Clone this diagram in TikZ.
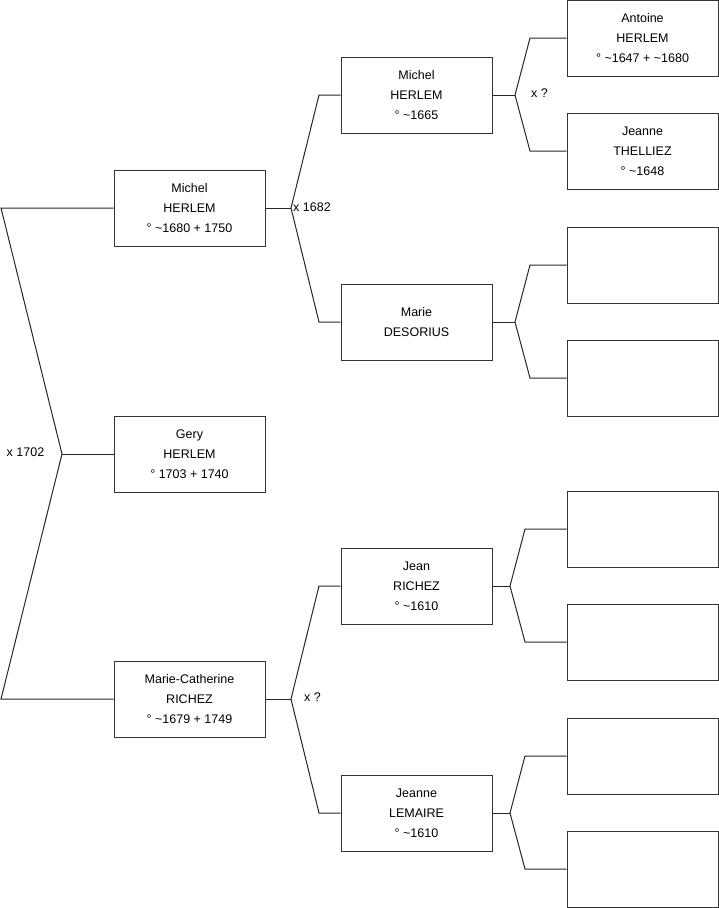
\documentclass[tikz,border=0pt]{standalone}
\usepackage{fontspec}
\setmainfont{Liberation Sans}
\begin{document}
\begin{tikzpicture}[x=1pt, y=-1pt]

    \tikzset{
        person/.style={
            draw=black!80,
            rectangle,
            line width=1pt,
            minimum width=151pt,
            minimum height=76pt,
            inner sep=0pt,
            align=center,
            font=\fontsize{12.5}{20}\selectfont
        },
        link/.style={
            draw=black!85,
            line width=1pt
        },
        union/.style={
            font=\fontsize{12.5}{15}\selectfont,
            inner sep=0pt
        }
    }

    \useasboundingbox (0,0) rectangle (719,908);

    % osoby
    \node[person] (gery)    at (189.5,454) {Gery\\HERLEM\\° 1703 + 1740};
    \node[person] (michelA) at (189.5,208) {Michel\\HERLEM\\° \textasciitilde1680 + 1750};
    \node[person] (mariec)  at (189.5,699) {Marie-Catherine\\RICHEZ\\° \textasciitilde1679 + 1749};

    \node[person] (michelB) at (416.5,95)  {Michel\\HERLEM\\° \textasciitilde1665};
    \node[person] (marie)   at (416.5,322) {Marie\\DESORIUS};
    \node[person] (jean)    at (416.5,586) {Jean\\RICHEZ\\° \textasciitilde1610};
    \node[person] (jeanne)  at (416.5,813) {Jeanne\\LEMAIRE\\° \textasciitilde1610};

    \node[person] (antoine) at (642.5,38)  {Antoine\\HERLEM\\° \textasciitilde1647 + \textasciitilde1680};
    \node[person] (jeanneT) at (642.5,151) {Jeanne\\THELLIEZ\\° \textasciitilde1648};
    \node[person] (e1)      at (642.5,265) {};
    \node[person] (e2)      at (642.5,378) {};
    \node[person] (e3)      at (642.5,529) {};
    \node[person] (e4)      at (642.5,642) {};
    \node[person] (e5)      at (642.5,756) {};
    \node[person] (e6)      at (642.5,869) {};

    % rozvětvení
    \coordinate (s0)  at (62,454);
    \coordinate (s0u) at (1,208);
    \coordinate (s0d) at (1,699);

    \coordinate (s1)  at (291,208);
    \coordinate (s1u) at (319,95);
    \coordinate (s1d) at (319,322);

    \coordinate (s2)  at (291,699);
    \coordinate (s2u) at (319,586);
    \coordinate (s2d) at (319,813);

    \coordinate (s3)  at (515,95);
    \coordinate (s3u) at (530,38);
    \coordinate (s3d) at (530,151);

    \coordinate (s4)  at (515,322);
    \coordinate (s4u) at (530,265);
    \coordinate (s4d) at (530,378);

    \coordinate (s5)  at (510,586);
    \coordinate (s5u) at (525,529);
    \coordinate (s5d) at (525,642);

    \coordinate (s6)  at (510,813);
    \coordinate (s6u) at (525,756);
    \coordinate (s6d) at (525,869);

    % spojnice
    \draw[link] (gery.west) -- (s0);
    \draw[link] (michelA.west) -- (s0u) -- (s0) -- (s0d) -- (mariec.west);

    \draw[link] (michelA.east) -- (s1);
    \draw[link] (michelB.west) -- (s1u) -- (s1) -- (s1d) -- (marie.west);

    \draw[link] (mariec.east) -- (s2);
    \draw[link] (jean.west) -- (s2u) -- (s2) -- (s2d) -- (jeanne.west);

    \draw[link] (michelB.east) -- (s3);
    \draw[link] (antoine.west) -- (s3u) -- (s3) -- (s3d) -- (jeanneT.west);

    \draw[link] (marie.east) -- (s4);
    \draw[link] (e1.west) -- (s4u) -- (s4) -- (s4d) -- (e2.west);

    \draw[link] (jean.east) -- (s5);
    \draw[link] (e3.west) -- (s5u) -- (s5) -- (s5d) -- (e4.west);

    \draw[link] (jeanne.east) -- (s6);
    \draw[link] (e5.west) -- (s6u) -- (s6) -- (s6d) -- (e6.west);

    % sňatky
    \node[union] (x0) at (25.5,452) {x 1702};
    \node[union, anchor=west] (x1) at (293,207) {x 1682};
    \node[union] (x2) at (312.5,697) {x ?};
    \node[union] (x3) at (539.5,93) {x ?};

\end{tikzpicture}
\end{document}
